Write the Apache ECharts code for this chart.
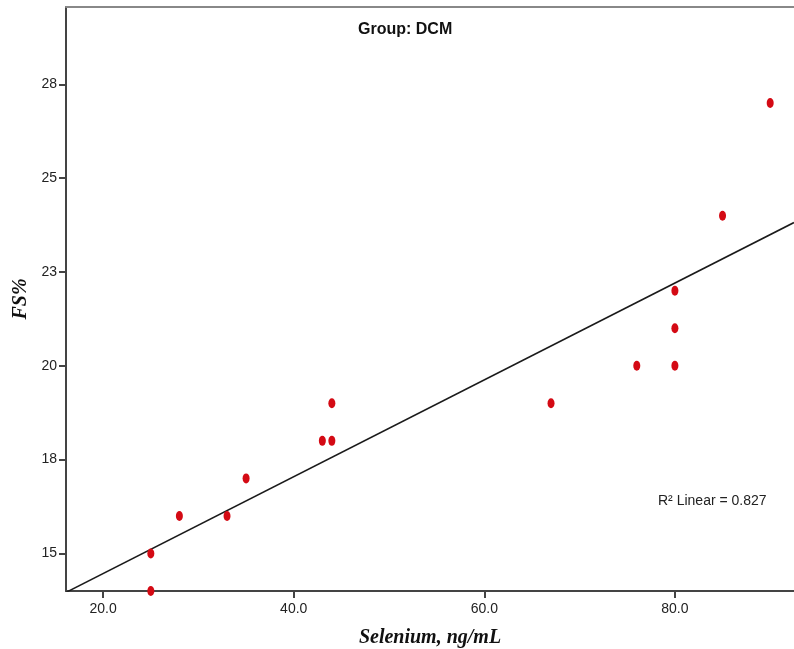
<!DOCTYPE html>
<html>
<head>
<meta charset="utf-8">
<script src="https://cdn.jsdelivr.net/npm/echarts@6/dist/echarts.min.js"></script>
<style>
html, body { margin: 0; padding: 0; background: #fff; }
#main { width: 794px; height: 649px; }
</style>
</head>
<body>
<div id="main"></div>
<script>
var selenium = [25, 25, 28, 33, 35, 43, 44, 44, 67, 76, 80, 80, 80, 85, 90];
var fsPercent = [14, 15, 16, 16, 17, 18, 18, 19, 19, 20, 20, 21, 22, 24, 27];
var xTicks = [20, 40, 60, 80];
var yTicks = [15, 17.5, 20, 22.5, 25, 27.5];
var xMin = 16.1, xMax = 92.5;

// least squares fit line
var n = selenium.length, mx = 0, my = 0;
for (var i = 0; i < n; i++) { mx += selenium[i]; my += fsPercent[i]; }
mx /= n; my /= n;
var sxy = 0, sxx = 0;
for (var i = 0; i < n; i++) {
    sxy += (selenium[i] - mx) * (fsPercent[i] - my);
    sxx += (selenium[i] - mx) * (selenium[i] - mx);
}
var slope = sxy / sxx, icpt = my - slope * mx;

var points = selenium.map(function (x, i) { return [x, fsPercent[i]]; });

var myChart = echarts.init(document.getElementById('main'));
option = {
    animation: false,
    grid: { left: 66, top: 7, right: 0, bottom: 58, outerBoundsMode: 'none', containLabel: false },
    title: {
        text: 'Group: DCM',
        left: 353,
        top: 17,
        textStyle: { fontFamily: 'Liberation Sans', fontSize: 16, fontWeight: 'bold', color: '#111' }
    },
    graphic: [{
        type: 'text',
        left: 658,
        top: 494,
        style: { text: 'R² Linear = 0.827', font: '14px "Liberation Sans"', fill: '#222' }
    }],
    xAxis: [{
        type: 'value',
        min: xMin,
        max: xMax,
        name: 'Selenium, ng/mL',
        nameLocation: 'middle',
        nameGap: 37,
        nameTextStyle: { fontFamily: 'Liberation Serif', fontSize: 20, fontStyle: 'italic', fontWeight: 'bold', color: '#111' },
        splitLine: { show: false },
        axisLine: { lineStyle: { color: '#444', width: 2 } },
        axisTick: { customValues: xTicks, length: 7, lineStyle: { color: '#444', width: 2 } },
        axisLabel: {
            customValues: xTicks,
            formatter: function (v) { return v.toFixed(1); },
            fontFamily: 'Liberation Sans', fontSize: 14, color: '#222', margin: 11
        }
    }, {
        type: 'value',
        position: 'top',
        min: xMin,
        max: xMax,
        splitLine: { show: false },
        axisLine: { lineStyle: { color: '#888', width: 2 } },
        axisTick: { show: false },
        axisLabel: { show: false }
    }],
    yAxis: {
        type: 'value',
        min: 14,
        max: 29.56,
        name: 'FS%',
        nameLocation: 'middle',
        nameGap: 33,
        nameTextStyle: { fontFamily: 'Liberation Serif', fontSize: 20, fontStyle: 'italic', fontWeight: 'bold', color: '#111' },
        splitLine: { show: false },
        axisLine: { lineStyle: { color: '#444', width: 2 } },
        axisTick: { customValues: yTicks, length: 7, lineStyle: { color: '#444', width: 2 } },
        axisLabel: {
            customValues: yTicks,
            formatter: function (v) { return String(Math.round(v)); },
            fontFamily: 'Liberation Sans', fontSize: 14, color: '#222', margin: 9
        }
    },
    series: [{
        type: 'line',
        data: [[xMin, icpt + slope * xMin], [xMax, icpt + slope * xMax]],
        symbol: 'none',
        lineStyle: { color: '#1a1a1a', width: 1.6 },
        z: 2
    }, {
        type: 'scatter',
        data: points,
        symbol: 'circle',
        symbolSize: [7, 10],
        itemStyle: { color: '#d40a14', opacity: 1 },
        clip: false,
        z: 3
    }]
};
myChart.setOption(option);
</script>
</body>
</html>
